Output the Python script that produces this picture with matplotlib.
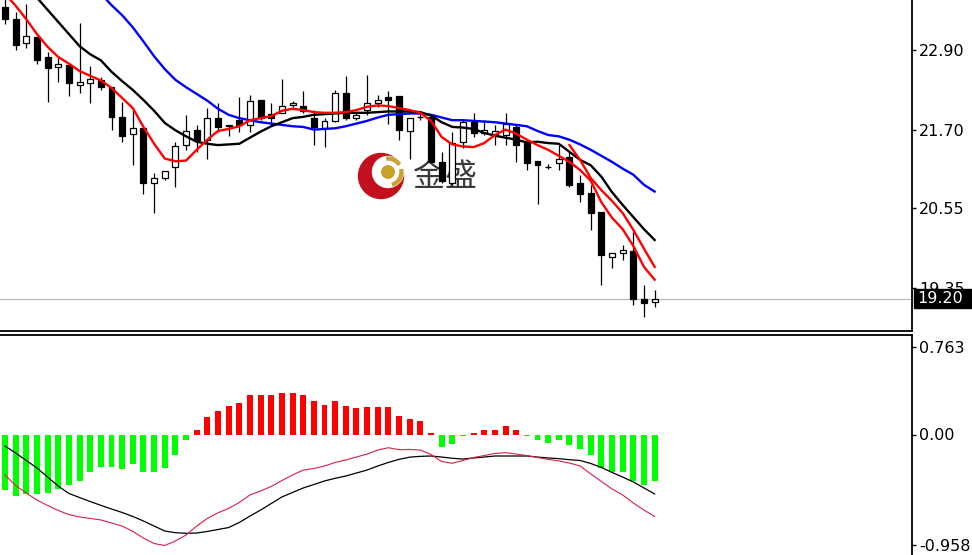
import numpy as np
import matplotlib
matplotlib.use('Agg')
import matplotlib.pyplot as plt
from matplotlib.patches import Circle, Wedge, Rectangle

# K线数据 (62根)
opens = [23.53, 23.36, 22.99, 23.08, 22.79, 22.64, 22.67, 22.38, 22.40, 22.45,
         22.35, 21.90, 21.65, 21.74, 20.91, 20.99, 21.15, 21.48, 21.70, 21.56,
         21.88, 21.78, 21.85, 21.78, 22.15, 21.94, 21.96, 22.08, 22.06, 21.89,
         21.73, 21.84, 22.26, 21.88, 22.00, 22.11, 22.20, 22.21, 21.69, 21.90,
         21.90, 21.23, 20.91, 21.53, 21.83, 21.66, 21.62, 21.63, 21.75, 21.51,
         21.24, 21.16, 21.21, 21.31, 20.91, 20.77, 20.49, 19.82, 19.87, 19.90,
         19.19, 19.15]
highs = [23.68, 23.46, 23.58, 23.09, 22.87, 22.78, 22.67, 23.29, 22.65, 22.49,
         22.35, 22.12, 22.00, 21.74, 21.06, 21.09, 21.53, 21.93, 21.78, 22.03,
         22.10, 21.78, 22.20, 22.22, 22.15, 22.10, 22.46, 22.14, 22.29, 22.00,
         21.88, 22.30, 22.50, 21.95, 22.52, 22.22, 22.29, 22.21, 21.89, 21.95,
         21.93, 21.38, 21.68, 21.85, 21.95, 21.85, 21.78, 21.95, 21.78, 21.51,
         21.24, 21.20, 21.48, 21.38, 21.04, 20.89, 20.49, 19.88, 19.99, 20.19,
         19.40, 19.33]
lows = [23.28, 22.89, 22.93, 22.68, 22.12, 22.42, 22.21, 22.26, 22.10, 22.30,
        21.70, 21.53, 21.18, 20.75, 20.47, 20.96, 20.85, 21.41, 21.38, 21.28,
        21.68, 21.61, 21.68, 21.68, 21.85, 21.78, 21.95, 22.05, 21.95, 21.48,
        21.45, 21.83, 21.86, 21.86, 21.93, 22.05, 21.80, 21.56, 21.28, 21.86,
        21.23, 20.91, 20.89, 21.43, 21.60, 21.63, 21.48, 21.48, 21.23, 21.11,
        20.61, 21.12, 21.11, 20.86, 20.64, 20.22, 19.40, 19.65, 19.77, 19.10,
        18.93, 19.08]
closes = [23.36, 22.97, 23.10, 22.74, 22.63, 22.69, 22.40, 22.42, 22.46, 22.34,
          21.90, 21.62, 21.74, 20.91, 20.99, 21.09, 21.47, 21.69, 21.56, 21.88,
          21.75, 21.76, 21.78, 22.13, 21.88, 21.89, 22.06, 22.11, 21.98, 21.75,
          21.84, 22.26, 21.88, 21.93, 22.11, 22.15, 22.15, 21.71, 21.89, 21.90,
          21.23, 20.94, 21.51, 21.83, 21.66, 21.70, 21.69, 21.80, 21.48, 21.22,
          21.18, 21.16, 21.28, 20.89, 20.75, 20.47, 19.85, 19.88, 19.92, 19.20,
          19.13, 19.20]

# 均线
ma_red = [23.73, 23.55, 23.35, 23.13, 22.94, 22.79, 22.69, 22.58, 22.51, 22.44,
          22.33, 22.18, 22.03, 21.75, 21.50, 21.28, 21.24, 21.25, 21.41, 21.56,
          21.69, 21.72, 21.76, 21.85, 21.88, 21.91, 21.99, 22.02, 22.00, 21.97,
          21.96, 21.96, 21.97, 22.00, 22.05, 22.07, 22.06, 22.03, 22.00, 21.96,
          21.84, 21.60, 21.49, 21.46, 21.45, 21.51, 21.63, 21.71, 21.65, 21.56,
          21.48, 21.41, 21.32, 21.23, 21.11, 20.95, 20.63, 20.40, 20.23, 19.98,
          19.67, 19.48]
ma_red2 = [21.48, 21.26, 20.99, 20.81, 20.65, 20.47, 20.22, 19.94, 19.67]
ma_red2_start = 53
ma_black = [24.20, 24.01, 23.81, 23.67, 23.49, 23.31, 23.13, 22.95, 22.83, 22.74,
            22.57, 22.43, 22.30, 22.15, 21.99, 21.81, 21.70, 21.61, 21.53, 21.50,
            21.48, 21.49, 21.50, 21.59, 21.68, 21.76, 21.82, 21.88, 21.90, 21.93,
            21.94, 21.95, 21.96, 21.96, 21.96, 21.97, 21.98, 21.98, 21.98, 21.97,
            21.92, 21.82, 21.75, 21.74, 21.72, 21.66, 21.62, 21.59, 21.56, 21.52,
            21.53, 21.51, 21.50, 21.38, 21.26, 21.18, 21.01, 20.78, 20.59, 20.41,
            20.23, 20.07]
ma_blue = [25.32, 25.14, 24.96, 24.78, 24.60, 24.42, 24.25, 24.07, 23.89, 23.73,
           23.56, 23.41, 23.23, 23.02, 22.80, 22.61, 22.45, 22.34, 22.24, 22.14,
           22.02, 21.93, 21.88, 21.85, 21.82, 21.80, 21.78, 21.76, 21.75, 21.71,
           21.72, 21.73, 21.76, 21.80, 21.84, 21.89, 21.93, 21.94, 21.95, 21.95,
           21.93, 21.89, 21.85, 21.85, 21.84, 21.83, 21.82, 21.80, 21.78, 21.76,
           21.69, 21.63, 21.61, 21.56, 21.49, 21.41, 21.32, 21.23, 21.13, 21.04,
           20.89, 20.79]

# MACD
macd_hist = [-0.486, -0.538, -0.52, -0.52, -0.51, -0.47, -0.44, -0.40, -0.33, -0.28,
             -0.28, -0.30, -0.255, -0.33, -0.33, -0.29, -0.174, -0.052, 0.043, 0.15,
             0.208, 0.25, 0.27, 0.347, 0.347, 0.347, 0.365, 0.365, 0.347, 0.295,
             0.26, 0.295, 0.25, 0.23, 0.243, 0.243, 0.243, 0.16, 0.136, 0.115,
             0.015, -0.11, -0.08, -0.015, 0.015, 0.035, 0.04, 0.072, 0.04, -0.015,
             -0.052, -0.07, -0.052, -0.095, -0.124, -0.174, -0.29, -0.33, -0.33, -0.40,
             -0.44, -0.40]
macd_black = [-0.100, -0.161, -0.226, -0.291, -0.370, -0.448, -0.513, -0.548, -0.583, -0.616,
              -0.648, -0.678, -0.713, -0.752, -0.796, -0.839, -0.854, -0.859, -0.857, -0.843,
              -0.826, -0.809, -0.765, -0.709, -0.657, -0.600, -0.543, -0.504, -0.465, -0.435,
              -0.404, -0.381, -0.361, -0.335, -0.309, -0.274, -0.243, -0.216, -0.197, -0.190,
              -0.187, -0.196, -0.207, -0.213, -0.204, -0.196, -0.187, -0.187, -0.187, -0.187,
              -0.196, -0.204, -0.210, -0.219, -0.226, -0.252, -0.287, -0.330, -0.370, -0.413,
              -0.465, -0.517]
macd_red = [-0.352, -0.443, -0.509, -0.570, -0.617, -0.661, -0.696, -0.717, -0.730, -0.743,
            -0.770, -0.796, -0.843, -0.900, -0.948, -0.965, -0.926, -0.874, -0.796, -0.730,
            -0.681, -0.643, -0.591, -0.526, -0.491, -0.452, -0.400, -0.352, -0.309, -0.296,
            -0.274, -0.243, -0.222, -0.196, -0.170, -0.135, -0.115, -0.132, -0.130, -0.135,
            -0.174, -0.235, -0.250, -0.226, -0.200, -0.183, -0.165, -0.158, -0.170, -0.183,
            -0.200, -0.216, -0.230, -0.248, -0.274, -0.343, -0.409, -0.474, -0.526, -0.596,
            -0.657, -0.713]

price_ticks = [22.90, 21.70, 20.55, 19.35]
macd_ticks = [0.763, 0.00, -0.958]
macd_tick_labels = ['0.763', '0.00', '-0.958']
last_label = '19.20'

W, H = 972, 555
fig = plt.figure(figsize=(W / 100, H / 100), dpi=100)
fig.patch.set_facecolor('white')

ax = fig.add_axes([0, (H - 331) / H, 912 / W, 331 / H])
ax2 = fig.add_axes([0, 0, 912 / W, 220 / H])

n = len(closes)
x = np.arange(n)
o = np.array(opens); c = np.array(closes)
hi = np.array(highs); lo = np.array(lows)

# 蜡烛
up = c >= o
ax.vlines(x, lo, hi, color='black', lw=0.9, zorder=3)
body_lo = np.minimum(o, c)
body_h = np.abs(c - o)
ax.bar(x[up], body_h[up], bottom=body_lo[up], width=0.56, color='white',
       edgecolor='black', lw=0.9, zorder=4)
ax.bar(x[~up], body_h[~up], bottom=body_lo[~up], width=0.56, color='black',
       edgecolor='black', lw=0.9, zorder=4)

ax.plot(x, ma_blue, color='#0000ff', lw=1.7, zorder=5)
ax.plot(x, ma_black, color='black', lw=1.7, zorder=5)
ax.plot(x, ma_red, color='#ff0000', lw=1.7, zorder=5)
x2 = np.arange(ma_red2_start, ma_red2_start + len(ma_red2))
ax.plot(x2, ma_red2, color='#ff0000', lw=1.7, zorder=5)

ax.axhline(closes[-1], color='#b8b8b8', lw=0.9, zorder=2)

px_x = 10.65
ax.set_xlim(-5 / px_x, (912 - 5) / px_x)
ax.set_ylim(23.636 - 331 / 67.3, 23.636)

# 水印 logo (像素坐标)
def P(px, py):
    return (px / 100, (H - py) / 100)

tr = fig.dpi_scale_trans
ax.add_patch(Circle(P(381, 176), 0.225, color='#c2101c', transform=tr, zorder=1))
ax.add_patch(Circle(P(388, 172), 0.155, color='white', transform=tr, zorder=1.1))
ax.add_patch(Wedge(P(388, 172), 0.15, -70, 10, width=0.03, color='#c9a233', transform=tr, zorder=1.2))
ax.add_patch(Wedge(P(388, 172), 0.15, 35, 95, width=0.03, color='#c9a233', transform=tr, zorder=1.2))
ax.add_patch(Circle(P(388, 172), 0.062, color='#c8a02a', transform=tr, zorder=1.3))
ax.text(*P(413, 177), '金盛', transform=tr, fontsize=23, color='#3a3a3a',
        family=['Noto Sans CJK SC', 'DejaVu Sans'], va='center', ha='left', zorder=1)

# MACD
hist = np.array(macd_hist)
cols = np.where(hist >= 0, '#ff0000', '#00ff00')
ax2.bar(x, hist, width=0.56, color=cols, zorder=2)
ax2.plot(x, macd_black, color='black', lw=0.9, zorder=3)
ax2.plot(x, macd_red, color='#d8204a', lw=0.8, zorder=3)
ax2.set_xlim(ax.get_xlim())
ax2.set_ylim((434.5 - 555) / 115, (434.5 - 335) / 115)

for a in (ax, ax2):
    a.set_facecolor('white')
    a.set_xticks([])
    a.yaxis.tick_right()
    a.tick_params(axis='y', length=3, width=1, pad=2, labelsize=11.5, colors='black')
    for s in a.spines.values():
        s.set_visible(False)
    a.spines['right'].set_visible(True)
    a.spines['right'].set_linewidth(1.3)

ax.spines['bottom'].set_visible(True)
ax.spines['bottom'].set_linewidth(1.3)
ax2.spines['top'].set_visible(True)
ax2.spines['top'].set_linewidth(1.3)

ax.set_yticks(price_ticks)
ax.set_yticklabels(['%.2f' % v for v in price_ticks])
ax2.set_yticks(macd_ticks)
ax2.set_yticklabels(macd_tick_labels)

# 当前价格标签 (黑底白字)
ly = ax.transData.transform((0, closes[-1]))[1]
fig.patches.append(Rectangle((914 / 100, (ly - 9.5) / 100), 58 / 100, 19 / 100,
                             transform=tr, facecolor='black', edgecolor='black',
                             zorder=10, figure=fig))
fig.text(917 / W, ly / H, last_label, ha='left', va='center', fontsize=11.5,
         color='white', zorder=11)

fig.savefig('out.png', dpi=100)
